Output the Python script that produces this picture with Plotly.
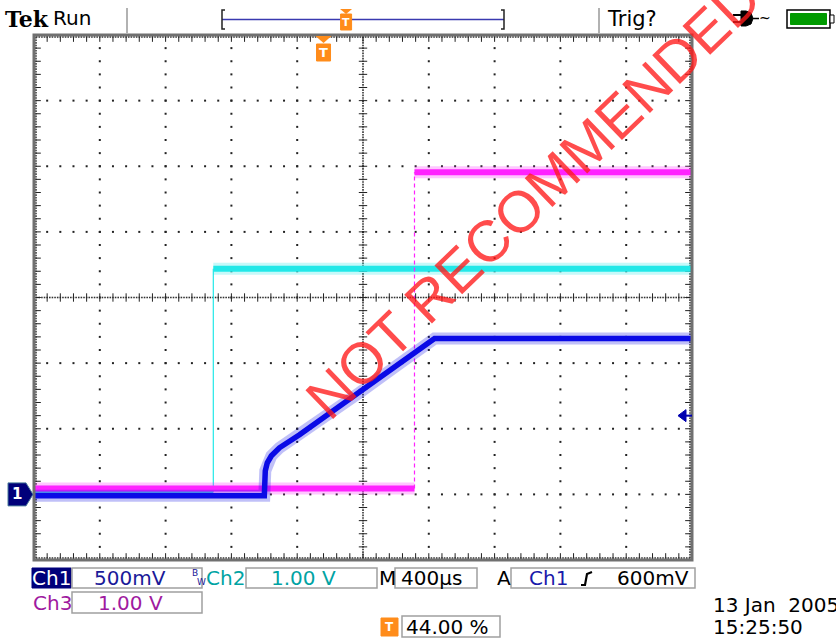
import plotly.graph_objects as go

W, H = 836, 638
PX_L, PX_R, PX_T, PX_B = 34, 692, 35, 560
N_XDIV, N_YDIV = 10, 8

# ---------------- scope settings ----------------
TIME_PER_DIV_MS = 0.4
TRIG_POS = 0.44
TRIG_LEVEL_V = 0.6
GROUND_DIV = -3
CH1_V_PER_DIV = 0.5
CH2_V_PER_DIV = 1.0
CH3_V_PER_DIV = 1.0

# ---------------- data (time in ms, volts) ----------------
ch1_t = [-1.76, -0.366, -0.360, -0.354, -0.342, -0.317, -0.268, -0.146, -0.024, 0.219, 0.462, 0.675, 2.24]
ch1_v = [-0.01, -0.01, -0.01, 0.179, 0.240, 0.294, 0.355, 0.454, 0.561, 0.775, 0.996, 1.187, 1.187]
ch2_t = [-1.76, -0.670, -0.670, 2.24]
ch2_v = [0.04, 0.04, 3.44, 3.44]
ch3_t = [-1.76, 0.553, 0.553, 2.24]
ch3_v = [0.09, 0.09, 4.91, 4.91]

# ---------------- readout text ----------------
ch1_scale_label = "500mV"
ch2_scale_label = "1.00 V"
ch3_scale_label = "1.00 V"
time_label = "400µs"
trig_label = "600mV"
trig_pos_label = "44.00 %"
date_label = "13 Jan\u00a0 2005"
time_of_day = "15:25:50"

BLUE = "#0a0ae6"
CYAN = "#22e8e8"
MAGENTA = "#ff22ff"
FONT = "DejaVu Sans"
FS = 20

t_min = -TRIG_POS * N_XDIV * TIME_PER_DIV_MS
t_max = (1 - TRIG_POS) * N_XDIV * TIME_PER_DIV_MS


def vrange(vdiv):
    return [(-N_YDIV / 2 - GROUND_DIV) * vdiv, (N_YDIV / 2 - GROUND_DIV) * vdiv]


def split(t, v):
    ft, fv, rt, rv = [], [], [], []
    for i in range(len(t)):
        if i > 0 and t[i] == t[i - 1]:
            ft.append(None); fv.append(None)
            rt += [t[i - 1], t[i], None]; rv += [v[i - 1], v[i], None]
        ft.append(t[i]); fv.append(v[i])
    return ft, fv, rt, rv


fig = go.Figure()

# ---------------- graticule (division coords on base axes) ----------------
dx, dy = [], []
for i in range(1, N_XDIV):
    if i == N_XDIV // 2:
        continue
    for k in range(1, N_YDIV * 5):
        dx.append(i); dy.append(-N_YDIV / 2 + 0.2 * k)
for j in range(-N_YDIV // 2 + 1, N_YDIV // 2):
    if j == 0:
        continue
    for k in range(1, N_XDIV * 5):
        dx.append(0.2 * k); dy.append(j)
fig.add_trace(go.Scatter(x=dx, y=dy, mode="markers", hoverinfo="skip",
                         marker=dict(symbol="square", size=2, color="#222")))
cx, cy = [], []
for k in range(0, N_YDIV * 25 + 1):
    cx.append(N_XDIV / 2); cy.append(-N_YDIV / 2 + 0.04 * k)
for k in range(0, N_XDIV * 25 + 1):
    cx.append(0.04 * k); cy.append(0)
for k in range(0, N_XDIV * 25 + 1):
    cx += [0.04 * k, 0.04 * k]; cy += [N_YDIV / 2 - 0.03, -N_YDIV / 2 + 0.03]
for k in range(0, N_YDIV * 25 + 1):
    cx += [0.03, N_XDIV - 0.03]; cy += [-N_YDIV / 2 + 0.04 * k] * 2
fig.add_trace(go.Scatter(x=cx, y=cy, mode="markers", hoverinfo="skip",
                         marker=dict(symbol="square", size=1.6, color="#333")))
hx, hy, vx, vy = [], [], [], []
for k in range(1, N_XDIV * 5):
    hx += [0.2 * k, 0.2 * k, 0.2 * k]; hy += [0, N_YDIV / 2 - 0.04, -N_YDIV / 2 + 0.04]
for k in range(1, N_YDIV * 5):
    vx += [N_XDIV / 2, 0.04, N_XDIV - 0.04]; vy += [-N_YDIV / 2 + 0.2 * k] * 3
fig.add_trace(go.Scatter(x=hx, y=hy, mode="markers", hoverinfo="skip",
                         marker=dict(symbol="line-ns", size=6, color="#222", line=dict(width=1, color="#222"))))
fig.add_trace(go.Scatter(x=vx, y=vy, mode="markers", hoverinfo="skip",
                         marker=dict(symbol="line-ew", size=6, color="#222", line=dict(width=1, color="#222"))))


# ---------------- channel traces ----------------
def add_channel(t, v, color, yaxis, dash_riser, core=5.5):
    ft, fv, rt, rv = split(t, v)
    if rt:
        fig.add_trace(go.Scatter(x=rt, y=rv, xaxis="x2", yaxis=yaxis, mode="lines", hoverinfo="skip",
                                 line=dict(color=color, width=1.2, dash=dash_riser)))
    fig.add_trace(go.Scatter(x=ft, y=fv, xaxis="x2", yaxis=yaxis, mode="lines", hoverinfo="skip",
                             opacity=0.25, line=dict(color=color, width=12)))
    fig.add_trace(go.Scatter(x=ft, y=fv, xaxis="x2", yaxis=yaxis, mode="lines", hoverinfo="skip",
                             line=dict(color=color, width=core)))


add_channel(ch2_t, ch2_v, CYAN, "y2", "solid", 6)
add_channel(ch3_t, ch3_v, MAGENTA, "y2", "4px,3px", 6)
add_channel(ch1_t, ch1_v, BLUE, "y3", "solid", 5.5)


def X(x):
    return x / W


def Y(y):
    return 1 - y / H


def ppath(pts, close=True):
    s = "M " + " L ".join(f"{X(x):.5f},{Y(y):.5f}" for x, y in pts)
    return s + (" Z" if close else "")


shapes = []
annots = []


def rect(x0, y0, x1, y1, line="#a0a0a0", fill=None, width=1.5):
    shapes.append(dict(type="rect", xref="paper", yref="paper", x0=X(x0), x1=X(x1), y0=Y(y1), y1=Y(y0),
                       line=dict(color=line, width=width), fillcolor=fill, layer="above"))


def line(x0, y0, x1, y1, color="#999", width=1.5):
    shapes.append(dict(type="line", xref="paper", yref="paper", x0=X(x0), x1=X(x1), y0=Y(y0), y1=Y(y1),
                       line=dict(color=color, width=width)))


def text(s, x, y, size=FS, color="#000", xanchor="left", family=FONT, **kw):
    annots.append(dict(text=s, x=X(x), y=Y(y), xref="paper", yref="paper", showarrow=False,
                       xanchor=xanchor, yanchor="middle", font=dict(size=size, color=color, family=family), **kw))


# plot border
rect(PX_L, PX_T, PX_R, PX_B, line="#707070", width=3)

# ---------------- top bar ----------------
text("<b>Tek</b>", 3, 19, size=22, family="DejaVu Serif")
text("Run", 51, 18, size=20)
line(127, 8, 127, 33)
line(599, 8, 599, 33)
REC_L, REC_R = 222, 504
line(REC_L, 19.5, REC_R, 19.5, color="#3a3ab0", width=1.5)
shapes.append(dict(type="path", xref="paper", yref="paper", path=ppath([(225, 10), (222, 10), (222, 29), (225, 29)], False),
                   line=dict(color="#222", width=1.5)))
shapes.append(dict(type="path", xref="paper", yref="paper", path=ppath([(501, 10), (504, 10), (504, 29), (501, 29)], False),
                   line=dict(color="#222", width=1.5)))
tm = REC_L + TRIG_POS * (REC_R - REC_L)
shapes.append(dict(type="path", xref="paper", yref="paper",
                   path=ppath([(tm - 6, 9), (tm + 6, 9), (tm, 14)]), fillcolor="#ff8c1a", line=dict(width=0)))
rect(tm - 5.5, 14, tm + 5.5, 30, line="#ff8c1a", fill="#ff8c1a", width=1)
text("<b>T</b>", tm, 22.5, size=11, color="#fff", xanchor="center")
text("Trig?", 605, 19, size=21)
# plug icon
line(733, 15, 741, 15, color="#000", width=2)
line(733, 22, 741, 22, color="#000", width=2)
shapes.append(dict(type="path", xref="paper", yref="paper",
                   path=ppath([(741, 11), (746, 11), (751, 13), (753, 18.5), (751, 24), (746, 26), (741, 26)]),
                   fillcolor="#000", line=dict(color="#000", width=1)))
line(753, 18.5, 759, 18.5, color="#000", width=1.5)
text("~", 757, 18, size=14, color="#000")
# battery
rect(787, 10, 830, 28, line="#000", fill="#fff", width=1.5)
rect(790.5, 13.5, 826.5, 24.5, line="#009a00", fill="#009a00", width=1)
rect(830, 15, 834, 23, line="#000", fill="#fff", width=1)

# trigger-time marker below top bar (anchored at t = 0)
shapes.append(dict(type="path", xref="x2", yref="paper", xsizemode="pixel", xanchor=0,
                   path=f"M -8,{Y(36):.5f} L 8,{Y(36):.5f} L 0,{Y(43):.5f} Z",
                   fillcolor="#ff8c1a", line=dict(width=0)))
shapes.append(dict(type="rect", xref="x2", yref="paper", xsizemode="pixel", xanchor=0,
                   x0=-7, x1=7, y0=Y(61), y1=Y(44), fillcolor="#ff8c1a", line=dict(color="#ff8c1a", width=1)))
annots.append(dict(text="<b>T</b>", x=0, y=Y(52.5), xref="x2", yref="paper", showarrow=False,
                   xanchor="center", yanchor="middle", font=dict(size=13, color="#fff", family=FONT)))

# ch1 ground marker (anchored at 0 V on ch1 scale)
shapes.append(dict(type="path", xref="paper", yref="y3", ysizemode="pixel", yanchor=0,
                   path=f"M {X(8):.5f},-11.5 L {X(26):.5f},-11.5 L {X(33):.5f},0 L {X(26):.5f},11.5 L {X(8):.5f},11.5 Z",
                   fillcolor="#00007a", line=dict(color="#4a7a9a", width=1)))
annots.append(dict(text="<b>1</b>", x=X(17), y=0, xref="paper", yref="y3", showarrow=False,
                   xanchor="center", yanchor="middle", font=dict(size=15, color="#fff", family=FONT)))
# trigger level arrow (anchored at trigger level on ch1 scale)
shapes.append(dict(type="path", xref="paper", yref="y3", ysizemode="pixel", yanchor=TRIG_LEVEL_V,
                   path=f"M {X(678):.5f},0 L {X(686):.5f},6 L {X(686):.5f},-6 Z",
                   fillcolor="#0000b0", line=dict(color="#0000b0", width=1)))
shapes.append(dict(type="path", xref="paper", yref="y3", ysizemode="pixel", yanchor=TRIG_LEVEL_V,
                   path=f"M {X(685):.5f},0 L {X(692):.5f},0",
                   line=dict(color="#0000b0", width=2)))

# ---------------- bottom readouts ----------------
R1, R2, R3 = 578, 602.5, 627
rect(32, 568, 71, 588, line="#00007a", fill="#00007a", width=1)
text("Ch1", 51.5, R1, color="#fff", xanchor="center")
rect(72, 568, 202, 588)
text(ch1_scale_label, 130, R1, color="#1a1a99", xanchor="center")
text("B", 190, 572.5, size=9, color="#1a1a99")
text("W", 195, 582, size=9, color="#1a1a99")
text("Ch2", 204, R1, color="#00a3a3")
rect(246, 568, 377, 588)
text(ch2_scale_label, 303, R1, color="#00a3a3", xanchor="center")
text("M", 377, R1, color="#000")
rect(395, 568, 477, 588)
text(time_label, 399, R1, color="#000")
text("A", 495, R1, color="#000")
rect(511, 568, 695, 588)
text("Ch1", 527, R1, color="#1a1aaa")
shapes.append(dict(type="path", xref="paper", yref="paper",
                   path=ppath([(581, 585), (585, 585), (587, 574), (592, 572)], False),
                   line=dict(color="#000", width=2.2)))
text(trig_label, 691, R1, color="#000", xanchor="right")

text("Ch3", 31, R2, color="#a01aa0")
rect(72, 592, 202, 613)
text(ch3_scale_label, 130, R2, color="#a01aa0", xanchor="center")

rect(381, 618, 398, 636, line="#ff8c1a", fill="#ff8c1a", width=1)
text("<b>T</b>", 389.5, 627, size=12, color="#fff", xanchor="center")
rect(402, 616, 500, 637)
text(trig_pos_label, 404, R3, color="#000")

text(date_label, 711, 605, size=20, color="#000")
text(time_of_day, 711, 627, size=20, color="#000")

# ---------------- watermark ----------------
annots.append(dict(text="NOT RECOMMENDED", x=X(533), y=Y(198), xref="paper", yref="paper", showarrow=False,
                   xanchor="center", yanchor="middle", textangle=-44,
                   font=dict(size=58, color="rgba(255,25,25,0.78)", family="Liberation Sans")))

fig.update_layout(
    width=W, height=H, margin=dict(l=0, r=0, t=0, b=0),
    paper_bgcolor="#fff", plot_bgcolor="#fff", showlegend=False,
    xaxis=dict(domain=[X(PX_L), X(PX_R)], range=[0, N_XDIV], visible=False, fixedrange=True),
    yaxis=dict(domain=[Y(PX_B), Y(PX_T)], range=[-N_YDIV / 2, N_YDIV / 2], visible=False, fixedrange=True),
    xaxis2=dict(overlaying="x", range=[t_min, t_max], visible=False, fixedrange=True),
    yaxis2=dict(overlaying="y", range=vrange(CH2_V_PER_DIV), visible=False, fixedrange=True),
    yaxis3=dict(overlaying="y", range=vrange(CH1_V_PER_DIV), visible=False, fixedrange=True),
    shapes=shapes, annotations=annots,
)

fig.write_html("out.html", config={"displayModeBar": False},
               post_script="document.body.style.margin='0px';document.body.style.padding='0px';"
                           "document.body.style.overflow='hidden';")
